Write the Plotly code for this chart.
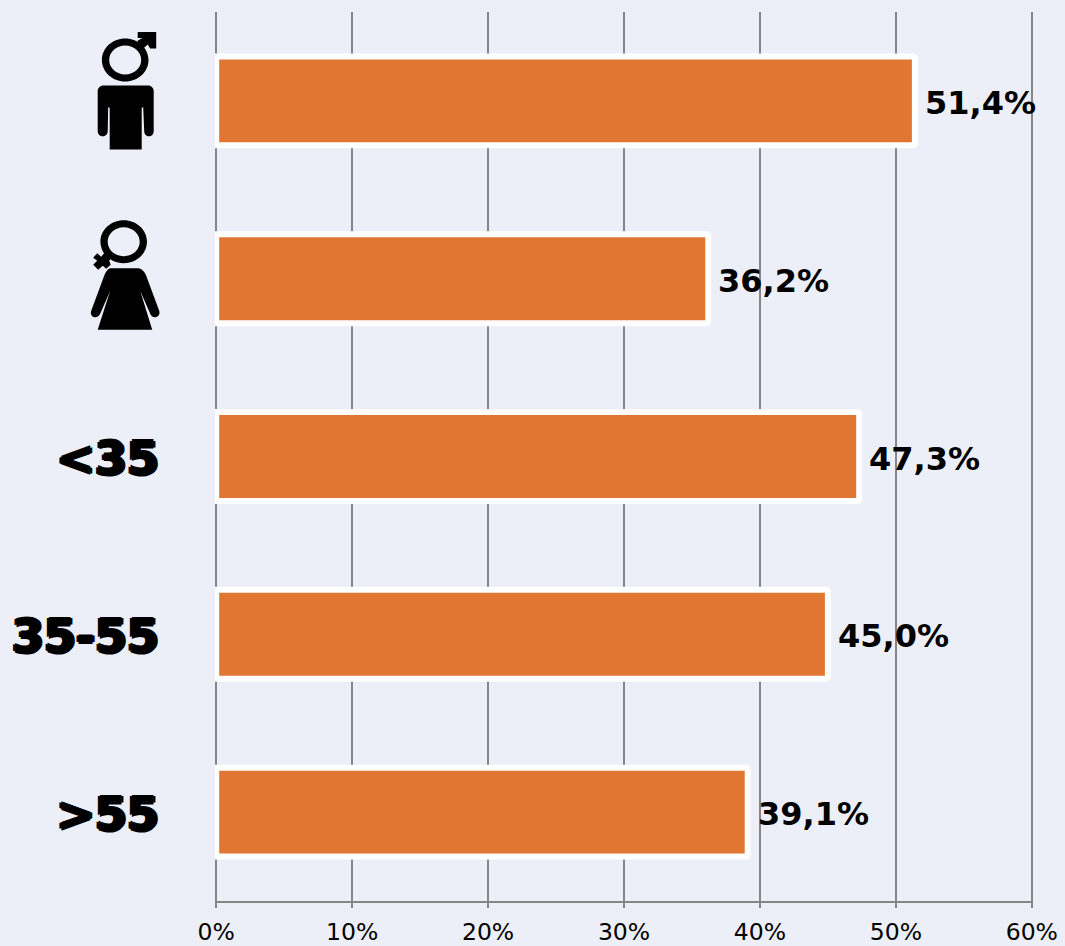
import plotly.graph_objects as go

categories = ["male", "female", "<35", "35-55", ">55"]
tick_labels = ["", "", "<35", "35-55", ">55"]
values = [51.4, 36.2, 47.3, 45.0, 39.1]
value_labels = ["51,4%", "36,2%", "47,3%", "45,0%", "39,1%"]
x_ticks = [0, 10, 20, 30, 40, 50, 60]
x_tick_labels = ["0%", "10%", "20%", "30%", "40%", "50%", "60%"]

BG = "#ECEFF7"
ORANGE = "#E07631"
GRID = "#868686"
W, H = 1065, 946
L, R, T, B = 214.8, 31.8, 12, 45
X_RANGE = [-0.088, 60.088]


def ellipse(cx, cy, rx, ry):
    k = 0.5523
    return [("M", cx - rx, cy),
            ("C", cx - rx, cy - k * ry, cx - k * rx, cy - ry, cx, cy - ry),
            ("C", cx + k * rx, cy - ry, cx + rx, cy - k * ry, cx + rx, cy),
            ("C", cx + rx, cy + k * ry, cx + k * rx, cy + ry, cx, cy + ry),
            ("C", cx - k * rx, cy + ry, cx - rx, cy + k * ry, cx - rx, cy),
            ("Z",)]


def poly(*pts):
    out = [("M", *pts[0])]
    out += [("L", *p) for p in pts[1:]]
    out.append(("Z",))
    return out


def to_path(cmds, ax, ay):
    parts = []
    for c in cmds:
        nums = c[1:]
        xy = []
        for i in range(0, len(nums), 2):
            xy.append(f"{nums[i] - ax:.2f},{ay - nums[i + 1]:.2f}")
        parts.append(c[0] + " ".join(xy))
    return " ".join(parts)


male_icon = ellipse(125, 60, 23.3, 21.5) + ellipse(125, 60, 16, 14.5)
male_arrow = poly((137, 41), (142.5, 49), (147.5, 44.5), (150, 48.5), (156, 48.5),
                  (156, 32), (137.5, 32), (137.5, 38), (142, 38))
male_body = [
    ("M", 103, 85.5), ("L", 148, 85.5),
    ("C", 151, 85.5, 153.5, 88, 153.5, 91),
    ("L", 153.5, 131),
    ("C", 153.5, 138, 144, 138, 144, 131),
    ("L", 143, 107), ("L", 141.5, 108), ("L", 141.5, 149.5),
    ("L", 109.5, 149.5), ("L", 109.5, 108), ("L", 108, 107),
    ("L", 107.5, 131),
    ("C", 107.5, 138, 97.5, 138, 97.5, 131),
    ("L", 97.5, 91),
    ("C", 97.5, 88, 100, 85.5, 103, 85.5), ("Z",),
]
female_icon = ellipse(123.5, 242, 23.3, 21.5) + ellipse(123.5, 242, 16, 14.5)
female_cross = poly((106, 251), (112, 257), (109, 261), (110.5, 265), (106, 269),
                    (102.5, 266), (98, 270), (93, 265), (97, 261), (93, 258),
                    (97, 253.5), (101, 257))
female_body = [
    ("M", 111, 268.5), ("L", 137, 268.5),
    ("C", 141, 268.5, 144, 271, 146, 276),
    ("L", 159, 311),
    ("C", 161, 318, 152, 320, 150, 314),
    ("L", 140, 291), ("L", 152, 330), ("L", 97.5, 330), ("L", 110, 291),
    ("L", 100, 314),
    ("C", 97, 320, 89, 318, 91, 311),
    ("L", 104, 276),
    ("C", 106, 271, 108, 268.5, 111, 268.5), ("Z",),
]

icons = [
    ("male", 101, [male_icon, male_arrow, male_body]),
    ("female", 279, [female_icon, female_cross, female_body]),
]
shapes = []
for cat, cy, groups in icons:
    for g in groups:
        shapes.append(dict(
            type="path", xref="paper", yref="y",
            xsizemode="pixel", ysizemode="pixel",
            xanchor=0, yanchor=cat,
            path=to_path(g, L, cy),
            fillcolor="#000000", fillrule="evenodd",
            line=dict(width=0), layer="above",
        ))

annotations = [
    dict(x=v, y=c, text=t, xref="x", yref="y", showarrow=False,
         xanchor="left", yanchor="middle", xshift=8, yshift=-2,
         font=dict(family="DejaVu Sans", size=32, color="#000000", weight="bold"))
    for c, v, t in zip(categories, values, value_labels)
]

fig = go.Figure(go.Bar(
    y=categories, x=values, orientation="h", width=0.5,
    marker=dict(color=ORANGE, line=dict(color="#FFFFFF", width=6), cornerradius=2),
    hoverinfo="skip",
))
fig.update_layout(
    width=W, height=H, margin=dict(l=L, r=R, t=T, b=B, autoexpand=False),
    paper_bgcolor=BG, plot_bgcolor=BG, showlegend=False,
    shapes=shapes, annotations=annotations,
)
fig.update_xaxes(
    range=X_RANGE, tickvals=x_ticks, ticktext=x_tick_labels, automargin=False,
    showgrid=True, gridcolor=GRID, gridwidth=2, zeroline=False,
    showline=True, linecolor=GRID, linewidth=2,
    ticks="outside", ticklen=5, tickcolor=GRID, tickwidth=2, ticklabelstandoff=4,
    tickfont=dict(family="DejaVu Sans", size=23.5, color="#000000"),
)
fig.update_yaxes(
    type="category", categoryorder="array", categoryarray=categories,
    range=[4.5, -0.5], tickmode="array", tickvals=categories, ticktext=tick_labels,
    automargin=False, showgrid=False, zeroline=False, ticks="", showline=False,
    ticklabelstandoff=55, ticklabelshift=-2,
    tickfont=dict(family="DejaVu Sans", size=46, color="#000000", weight="bold",
                  shadow="2px 0 0 #000, -2px 0 0 #000, 0 1.5px 0 #000, 0 -1.5px 0 #000"),
)
fig.write_html("out.html", config={"displayModeBar": False},
               post_script="document.body.style.margin='0';")
